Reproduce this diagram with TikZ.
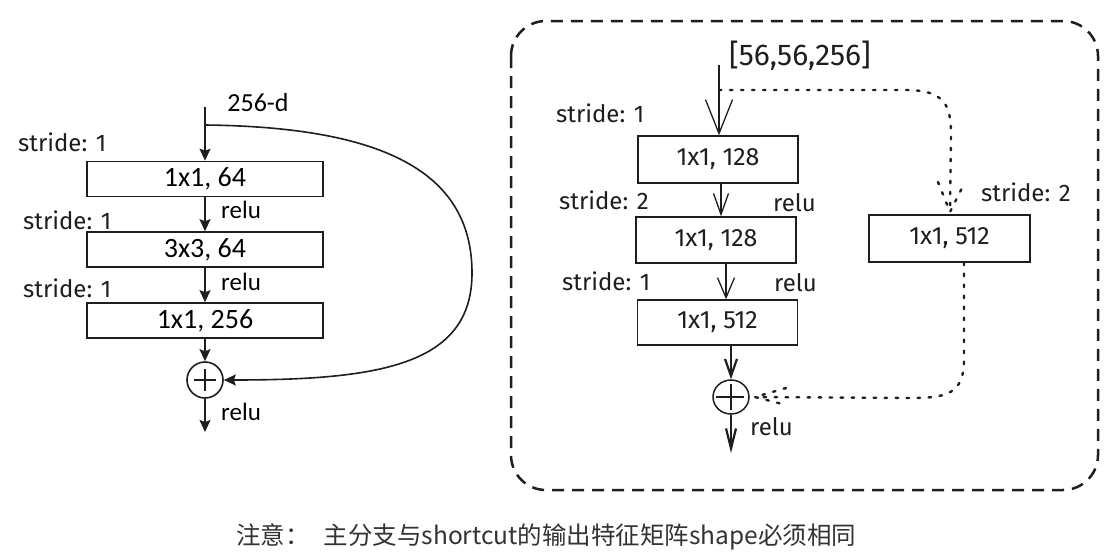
\documentclass[tikz,border=0pt]{standalone}
\usepackage{fontspec}
\setmainfont{Carlito}
\newfontfamily\hand{Fira Sans}
\newfontfamily\cjk{Noto Sans CJK SC}
\usetikzlibrary{arrows.meta,calc,shapes.geometric}
\definecolor{ink}{HTML}{1E1E1E}
\begin{document}
\begin{tikzpicture}[x=1pt,y=-1pt,
 lbox/.style={draw=ink, line width=1.6pt, minimum width=236pt, minimum height=35pt, inner sep=0pt, font=\fontsize{28}{30}\selectfont},
 ltxt/.style={anchor=west, inner sep=0pt, font=\fontsize{25}{27}\selectfont},
 htxt/.style={anchor=west, inner sep=0pt, text=ink, font=\hand\fontsize{24}{26}\selectfont},
 rbox/.style={draw=ink, line width=1.3pt, minimum width=160pt, minimum height=46pt, inner sep=0pt, text=ink, font=\hand\fontsize{25}{27}\selectfont},
 larrow/.style={draw=ink, line width=1.6pt, -{Stealth[length=12pt,width=11pt,inset=2pt]}},
 dotline/.style={draw=ink, line width=2.4pt, line cap=round, dash pattern=on 2.5pt off 8.5pt},
 border/.style={draw=ink, line width=2.5pt, dash pattern=on 12pt off 8pt, rounded corners=35pt}
]
\fill[white] (0,0) rectangle (1116,554);
\useasboundingbox (0,0) rectangle (1116,554);

% ---------- left diagram ----------
\coordinate (Lin) at (205,107);
\coordinate (Lbr) at (205,125);
\coordinate (Lout) at (205,432);
\node[lbox] (L1) at (205,179) {1x1, 64};
\node[lbox] (L2) at (205,249.5) {3x3, 64};
\node[lbox] (L3) at (205,320.5) {1x1, 256};
\node[draw=ink, circle, line width=1.6pt, minimum size=36pt, inner sep=0pt] (Lc) at (205,380) {};
\draw[larrow] (Lin) -- (L1);
\draw[larrow] (L1) -- (L2);
\draw[larrow] (L2) -- (L3);
\draw[larrow] (L3) -- (Lc);
\draw[larrow] (Lc) -- (Lout);
\draw[larrow] (Lbr) .. controls (380,127) and (472,170) .. (472,273) .. controls (472,365) and (380,380) .. (Lc.east);
\draw[draw=ink, line width=1.6pt] ($(Lc)+(-11,0)$) -- ($(Lc)+(11,0)$) ($(Lc)+(0,-11)$) -- ($(Lc)+(0,11)$);
\node[inner sep=0pt, font=\fontsize{26}{28}\selectfont] (L256) at (258,103) {256-d};
\node[ltxt] (Lr1) at (221,210) {relu};
\node[ltxt] (Lr2) at (221,282) {relu};
\node[ltxt] (Lr3) at (221,412) {relu};
\node[htxt] (Ls1) at (18,142) {stride: 1};
\node[htxt] (Ls2) at (23,220) {stride: 1};
\node[htxt] (Ls3) at (23,288) {stride: 1};

% ---------- right diagram ----------
\draw[border] (511,21) rectangle (1098,490);
\node[htxt, font=\hand\fontsize{30}{32}\selectfont] (Rin) at (729,56) {[56,56,256]};
\coordinate (Rtop) at (719,65);
\node[rbox, minimum height=47pt] (R1) at (718,159.5) {1x1, 128};
\node[rbox] (R2) at (716,240) {1x1, 128};
\node[rbox, minimum height=45pt] (R3) at (717.5,322.5) {1x1, 512};
\node[rbox, minimum width=161pt, minimum height=47pt] (RS) at (949.5,238.5) {1x1, 512};
\node[draw=ink, ellipse, line width=1.5pt, minimum width=36pt, minimum height=34pt, inner sep=0pt] (Rc) at (731,397) {};
\coordinate (Rout) at (731,453);
\draw[draw=ink, line width=1.3pt] ($(Rc)+(-15,0)$) -- ($(Rc)+(13,0)$) ($(Rc)+(0,-13)$) -- ($(Rc)+(0,13)$);

\draw[draw=ink, line width=1.3pt, -{Straight Barb[length=34pt,width=27pt]}] (Rtop) -- (Rtop |- R1.north);
\draw[draw=ink, line width=1.3pt, -{Straight Barb[length=21pt,width=15pt]}] ($(R1.south)+(3,0)$) -- ($(R2.north)+(5,0)$);
\draw[draw=ink, line width=1.3pt, -{Straight Barb[length=20pt,width=17pt]}] ($(R2.south)+(10,0)$) -- ($(R3.north)+(8.5,0)$);
\draw[draw=ink, line width=2.2pt, -{Straight Barb[length=17pt,width=12pt]}] ($(R3.south)+(13.5,0)$) -- (Rc.north);
\draw[draw=ink, line width=2.2pt, -{Straight Barb[length=20pt,width=10pt]}] (Rc.south) -- (Rout);

% dotted shortcut
\coordinate (Rbr) at (719,90);
\coordinate (RStip) at (950,212);
\coordinate (Rctip) at (755,397);
\draw[dotline] (Rbr) -- (905,90) .. controls (945,90) and (951,105) .. (951,135) -- (RStip);
\draw[dotline] ($(RStip)+(-12,-30)$) -- (RStip) -- ($(RStip)+(15,-30)$);
\draw[dotline] ($(RS.south)+(14.5,0)$) -- (964,360) .. controls (964,395) and (945,398) .. (910,398) -- (Rctip);
\draw[dotline] ($(Rctip)+(31,-9)$) -- (Rctip) -- ($(Rctip)+(31,8)$);

\node[htxt] (Rs1) at (556,113) {stride: 1};
\node[htxt] (Rs2) at (559,200) {stride: 2};
\node[htxt] (Rs3) at (562,281) {stride: 1};
\node[htxt] (Rs4) at (981,192) {stride: 2};
\node[htxt] (Rr1) at (773,203) {relu};
\node[htxt] (Rr2) at (774,283) {relu};
\node[htxt] (Rr3) at (750,427) {relu};

% ---------- note ----------
\node[anchor=west, inner sep=0pt, text=black!80, font=\cjk\fontsize{24.5}{26}\selectfont] (note) at (236,537) {注意：\hspace{14pt}主分支与shortcut的输出特征矩阵shape必须相同};
\end{tikzpicture}
\end{document}
